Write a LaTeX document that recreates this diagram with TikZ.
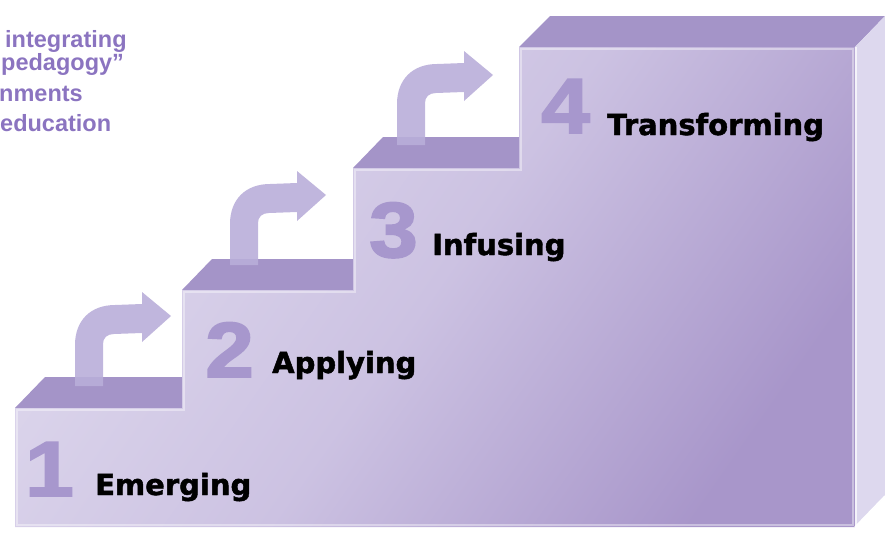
\documentclass[tikz,border=0pt]{standalone}
\usepackage{fontspec}
\setmainfont{Liberation Sans}
\newfontfamily\labelfont[FakeBold=1.6]{DejaVu Sans}
\newfontfamily\digitfont[FakeStretch=1.12, FakeBold=2.5]{Liberation Sans}

\definecolor{frontlight}{HTML}{DED8ED}
\definecolor{frontmid}{HTML}{CCC2E2}
\definecolor{frontdark}{HTML}{A896CA}
\definecolor{treadcolor}{HTML}{A494C8}
\definecolor{sidecolor}{HTML}{DDD8EE}
\definecolor{arrowcolor}{HTML}{B9AED9}
\definecolor{digitcolor}{HTML}{A797CD}
\definecolor{notecolor}{HTML}{8B74C0}

\begin{document}
\begin{tikzpicture}[x=1pt, y=-1pt,
    steplabel/.style={anchor=base west, inner sep=0pt, text=black, font=\labelfont\bfseries\fontsize{29}{29}\selectfont},
    stepnum/.style={anchor=base west, inner sep=0pt, text=digitcolor, font=\digitfont\bfseries\fontsize{78}{78}\selectfont},
    note/.style={anchor=base west, inner sep=0pt, text=notecolor, font=\bfseries\fontsize{23.5}{23.5}\selectfont},
    treadface/.style={fill=treadcolor},
    bendarrow/.pic={
        \fill[arrowcolor, opacity=.9] (0,0) -- (0,-41) .. controls (0,-66) and (16,-81) .. (40,-81)
            -- (67,-82) -- (67,-94) -- (96,-70) -- (67,-44) -- (67,-53) -- (39,-52)
            .. controls (32,-52) and (28,-48) .. (28,-42) -- (28,0) -- cycle;
    }
]
    \useasboundingbox (0,0) rectangle (885,533);
    \clip (0,0) rectangle (885,533);

    % Treads of the four steps
    \fill[treadface] (15,408) -- (182,408) -- (212,377) -- (45,377) -- cycle;
    \fill[treadface] (182,290) -- (353,290) -- (383,259) -- (212,259) -- cycle;
    \fill[treadface] (353,168) -- (519,168) -- (549,137) -- (383,137) -- cycle;
    \fill[treadface] (519,47) -- (855,47) -- (885,16) -- (550,16) -- cycle;

    % Front of the staircase
    \shade[left color=frontlight, right color=frontdark, middle color=frontmid, shading angle=55]
        (15,527) -- (15,408) -- (182,408) -- (182,290) -- (353,290) -- (353,168)
        -- (519,168) -- (519,47) -- (855,47) -- (855,527) -- cycle;
    \draw[white, opacity=.4, line width=1.2pt]
        (17,525) -- (17,410) -- (184,410) -- (184,292) -- (355,292) -- (355,170)
        -- (521,170) -- (521,49) -- (853,49) -- (853,525) -- cycle;

    % Right side of the top step
    \fill[sidecolor] (855,47) -- (885,16) -- (885,496) -- (855,527) -- cycle;
    \draw[white, line width=1.5pt] (855,527) -- (885,496);
    \draw[white, opacity=.7, line width=1.2pt] (856,47) -- (856,527);

    % Arrows from step to step
    \pic at (75,386) {bendarrow};
    \pic at (230,265) {bendarrow};
    \pic at (397,145) {bendarrow};

    % Step numbers and names
    \node[stepnum] (num1) at (25,496) {1};
    \node[stepnum] (num2) at (205,377) {2};
    \node[stepnum] (num3) at (369,257) {3};
    \node[stepnum] (num4) at (541,133) {4};

    \node[steplabel] (emerging) at (95,495) {Emerging};
    \node[steplabel] (applying) at (272,373) {Applying};
    \node[steplabel] (infusing) at (432,255) {Infusing};
    \node[steplabel] (transforming) at (607,135) {Transforming};

    % Text cut off at the left edge
    \node[note] (line1) at (5,47) {integrating};
    \node[note] (line2) at (1,70) {pedagogy”};
    \node[note] (line3) at (-1,101) {nments};
    \node[note] (line4) at (0,131) {education};

\end{tikzpicture}
\end{document}
